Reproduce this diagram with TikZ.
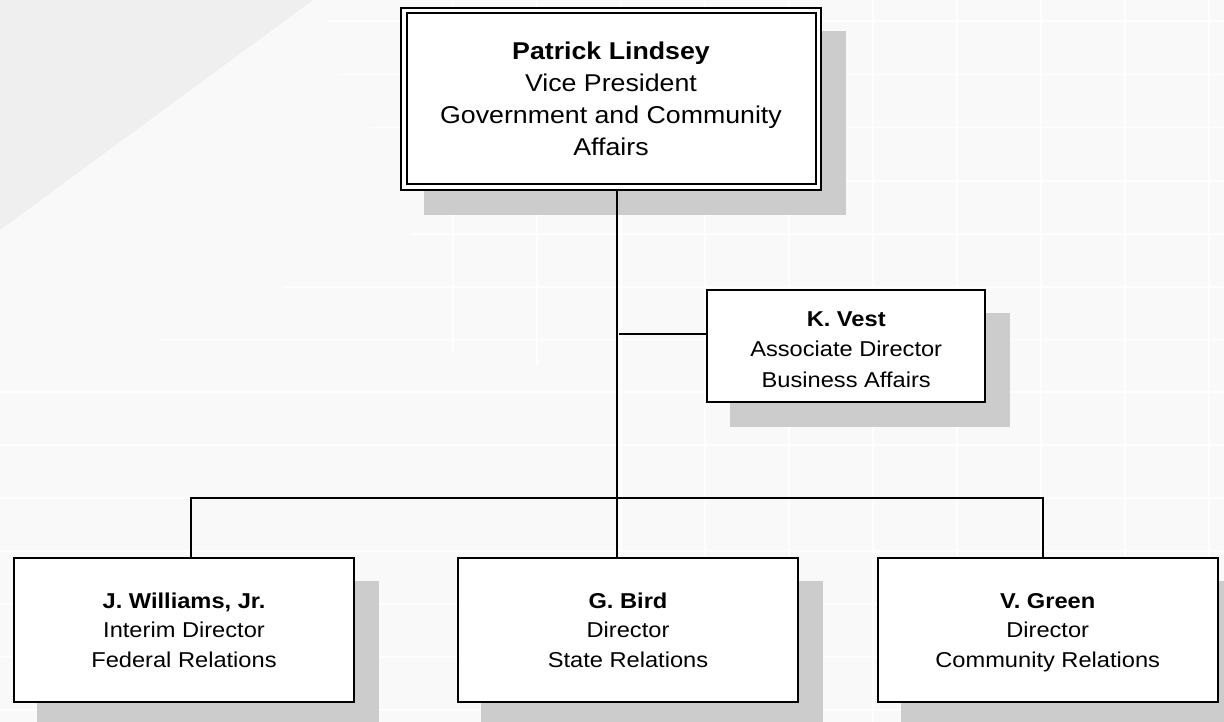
\documentclass[tikz,border=0pt]{standalone}
\usepackage{fontspec}
\setmainfont{Liberation Sans}
\newfontfamily\chartfont[FakeStretch=1.1]{Liberation Sans}
\usetikzlibrary{shadows}
\definecolor{bgbase}{HTML}{F9F9F9}
\definecolor{bgtri}{HTML}{EFEFEF}
\definecolor{shadowgray}{HTML}{CCCCCC}
\definecolor{gridwhite}{HTML}{FEFEFE}
\tikzset{
  orgbox/.style={draw=black, fill=white, line width=2pt, rectangle, inner sep=0pt, align=center,
    general shadow={fill=shadowgray, draw=shadowgray, line width=2pt, shadow xshift=24pt, shadow yshift=-24pt}},
  bigtext/.style={font=\chartfont\fontsize{24.3}{31.9}\selectfont},
  smalltext/.style={font=\chartfont\fontsize{21.5}{29.5}\selectfont},
  link/.style={line width=2pt, draw=black},
  gridline/.style={draw=gridwhite, line width=1.2pt}
}
\begin{document}
\begin{tikzpicture}[x=1pt, y=-1pt]
\useasboundingbox (0,0) rectangle (1224,722);
% background
\fill[bgbase] (0,0) rectangle (1224,722);
\fill[bgtri] (0,0) -- (313,0) -- (0,230) -- cycle;
\foreach \gy/\gs in {21/327, 74.3/340, 127.6/370, 181/400, 234/410, 287/285, 339.5/158, 392/0, 445/0, 498/0, 551/0, 604/0, 657/0, 710/0}
  {\draw[gridline] (\gs,\gy) -- (1224,\gy);}
\draw[gridline] (453,0) -- (453,353);
\draw[gridline] (537,0) -- (537,366);
\foreach \gx in {621,705,...,1224} {\draw[gridline] (\gx,0) -- (\gx,722);}
% boxes
\node[orgbox, bigtext, minimum width=420pt, minimum height=182pt] (top) at (611,98.7)
  {\textbf{Patrick Lindsey}\\Vice President\\Government and Community\\Affairs};
\draw[line width=2pt] ([shift={(6.5pt,-6.5pt)}]top.north west) rectangle ([shift={(-6.5pt,6.5pt)}]top.south east);
\node[orgbox, smalltext, font=\chartfont\fontsize{21.5}{30.5}\selectfont, minimum width=278.3pt, minimum height=111.4pt] (vest) at (846.2,346)
  {\rule{0pt}{21.4pt}\textbf{K. Vest}\\Associate Director\\Business Affairs};
\node[orgbox, smalltext, minimum width=340.6pt, minimum height=143.4pt] (jw) at (184,630)
  {\rule{0pt}{20.7pt}\textbf{J. Williams, Jr.}\\Interim Director\\Federal Relations\rule[-5pt]{0pt}{5pt}};
\node[orgbox, smalltext, minimum width=340pt, minimum height=143.4pt] (gb) at (628,630)
  {\rule{0pt}{20.7pt}\textbf{G. Bird}\\Director\\State Relations\rule[-5pt]{0pt}{5pt}};
\node[orgbox, smalltext, minimum width=340pt, minimum height=143.4pt] (vg) at (1047.7,630)
  {\rule{0pt}{20.7pt}\textbf{V. Green}\\Director\\Community Relations\rule[-5pt]{0pt}{5pt}};
% connectors
\coordinate (busL) at (191,498);
\coordinate (busM) at (617,498);
\coordinate (busR) at (1043,498);
\coordinate (vjunc) at (619,334);
\draw[link] (busM |- top.south) -- (busM) -- (busM |- gb.north);
\draw[link] (busL |- jw.north) -- (busL) -- (busR) -- (busR |- vg.north);
\draw[link] (vjunc) -- (vjunc -| vest.west);
\end{tikzpicture}
\end{document}
